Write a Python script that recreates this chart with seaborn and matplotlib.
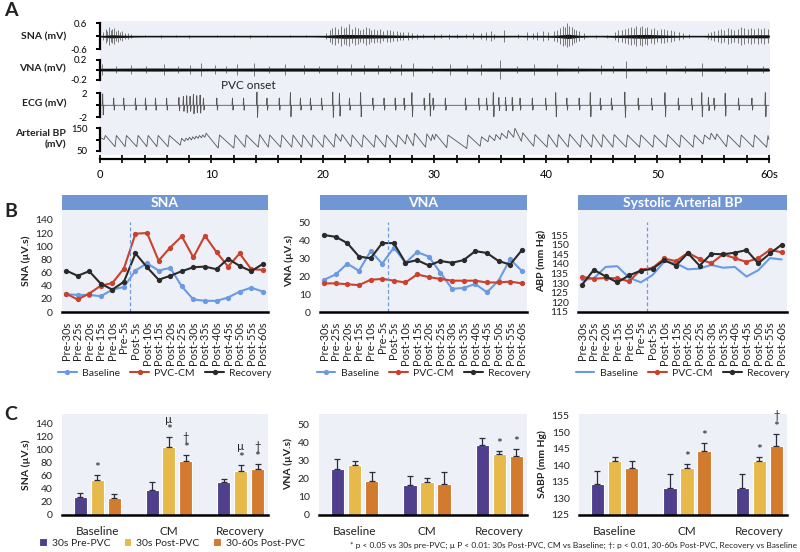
"""
plot.py

Three-panel physiology figure:
A. raw SNA / VNA / ECG / arterial BP traces around PVC onset
B. 5-s binned SNA, VNA and systolic BP for Baseline, PVC-CM and Recovery
C. 30-s averaged responses (mean + SE) before and after PVCs
"""

import numpy as np
import pandas as pd
import matplotlib.pyplot as plt
import seaborn as sns
from matplotlib.patches import Patch
from matplotlib.lines import Line2D

sns.set_theme(style="white", context="paper")
plt.rcParams["font.family"] = ["Lato", "DejaVu Sans"]

W, H = 800, 552
BG = "#EEF0F8"
TITLE_BLUE = "#7096D4"
INK = "#222222"
C_BASE = "#6A9BE2"
C_PVC = "#C8422E"
C_REC = "#2A2A2A"
C_PRE = "#4F3F8C"
C_POST = "#E7B94B"
C_LATE = "#D27B2F"

# ---------------------------------------------------------------- panel A data
# heart beats (s): BP upstroke times, systolic peaks, diastolic troughs
beat_t = [0.36, 1.35, 2.25, 3.3, 4.2, 5.1, 6.1, 7.2, 7.6, 7.9,
          8.2, 8.5, 8.8, 9.1, 9.4, 10.6, 12.0, 13.0, 14.2, 15.1,
          16.2, 17.2, 18.1, 19.0, 20.0, 21.0, 21.6, 22.5, 23.5, 24.6,
          25.6, 26.6, 27.4, 28.1, 29.2, 29.7, 30.0, 31.1, 32.9, 34.1,
          34.8, 35.4, 35.9, 36.5, 37.1, 37.8, 38.9, 40.1, 41.0, 42.0,
          43.1, 44.1, 45.0, 46.0, 47.2, 48.4, 49.6, 50.8, 52.0, 53.2,
          54.1, 54.7, 55.2, 56.2, 57.4, 58.6, 59.8]
bp_peak = [118, 118, 118, 118, 118, 118, 118, 105, 106, 110,
           112, 115, 118, 120, 128, 120, 120, 120, 122, 120,
           120, 120, 120, 120, 120, 125, 122, 120, 120, 120,
           120, 120, 122, 128, 125, 122, 124, 120, 120, 112,
           118, 122, 128, 140, 150, 130, 122, 122, 122, 124,
           122, 122, 122, 122, 120, 120, 120, 122, 120, 120,
           120, 128, 125, 120, 120, 120, 118]
bp_trough = [100, 68, 68, 68, 68, 68, 68, 75, 92, 97,
             98, 102, 105, 108, 110, 62, 62, 66, 66, 66,
             66, 66, 66, 66, 66, 66, 92, 68, 66, 66,
             66, 66, 80, 72, 66, 95, 100, 64, 60, 70,
             90, 95, 100, 105, 110, 92, 70, 66, 66, 66,
             66, 66, 66, 66, 66, 66, 66, 66, 66, 66,
             80, 100, 100, 68, 66, 66, 66]
ecg_up = [1.9, 1.2, 1.2, 1.2, 1.2, 1.2, 1.2, 1.3, 1.5, 1.6,
          1.5, 1.8, 1.6, 1.7, 1.2, 1.2, 1.2, 1.2, 2.2, 1.2,
          1.2, 2.1, 1.2, 1.2, 1.2, 2.2, 2.0, 1.2, 2.1, 1.2,
          1.2, 1.2, 1.2, 2.1, 1.2, 2.0, 1.2, 1.2, 1.2, 1.2,
          1.2, 2.1, 1.3, 1.3, 1.3, 1.2, 1.2, 1.2, 2.1, 1.2,
          1.2, 2.1, 1.2, 1.2, 2.2, 1.2, 1.2, 2.1, 1.2, 1.2,
          2.1, 1.3, 1.2, 2.0, 1.2, 1.2, 2.1]
ecg_dn = [-1.6, -0.8, -0.8, -0.8, -0.8, -0.8, -0.8, -0.9, -1.0, -1.2,
          -1.0, -1.4, -1.2, -1.3, -0.8, -0.8, -0.8, -0.8, -2.0, -0.8,
          -0.8, -1.9, -0.8, -0.8, -0.8, -2.0, -1.8, -0.8, -1.9, -0.8,
          -0.8, -0.8, -0.8, -1.9, -0.8, -1.8, -0.8, -0.8, -0.8, -0.8,
          -0.8, -1.9, -0.9, -0.9, -0.9, -0.8, -0.8, -0.8, -1.9, -0.8,
          -0.8, -1.9, -0.8, -0.8, -2.0, -0.8, -0.8, -1.9, -0.8, -0.8,
          -1.9, -0.9, -0.8, -1.8, -0.8, -0.8, -1.9]

# nerve activity: dense-band half width (1-s steps) and individual spikes
sna_env_t = list(range(61))
sna_env = [0.02, 0.07, 0.05, 0.03, 0.02, 0.02, 0.02, 0.02, 0.02, 0.02,
           0.02, 0.02, 0.02, 0.02, 0.02, 0.02, 0.02, 0.02, 0.02, 0.02,
           0.03, 0.07, 0.09, 0.08, 0.08, 0.07, 0.06, 0.05, 0.04, 0.03,
           0.03, 0.02, 0.03, 0.02, 0.03, 0.03, 0.03, 0.02, 0.02, 0.03,
           0.03, 0.05, 0.10, 0.04, 0.02, 0.02, 0.04, 0.06, 0.08, 0.09,
           0.07, 0.05, 0.03, 0.02, 0.02, 0.04, 0.05, 0.06, 0.06, 0.07,
           0.07]
sna_spk_t = [0.3, 0.5, 0.65, 0.8, 0.95, 1.1, 1.25, 1.4, 1.6, 1.8,
             2.0, 2.2, 2.5, 2.8, 4.0, 5.5, 6.8, 8.0, 10.5, 12.0,
             13.5, 15.0, 17.0, 18.5, 20.3, 20.6, 20.85, 21.1, 21.35, 21.6,
             21.85, 22.1, 22.35, 22.6, 22.85, 23.1, 23.35, 23.6, 23.85, 24.1,
             24.35, 24.6, 24.85, 25.1, 25.4, 25.7, 26.0, 26.3, 26.6, 26.9,
             27.2, 27.6, 28.0, 28.4, 29.0, 30.0, 30.6, 31.3, 32.0, 32.8,
             33.5, 34.2, 34.6, 35.1, 35.3, 36.2, 37.5, 38.3, 38.8, 39.2,
             39.7, 40.2, 40.7, 41.0, 41.3, 41.5, 41.7, 41.9, 42.1, 42.3,
             42.5, 42.7, 43.0, 43.4, 44.5, 45.5, 46.2, 46.5, 46.8, 47.1,
             47.4, 47.6, 47.9, 48.1, 48.4, 48.6, 48.9, 49.1, 49.4, 49.7,
             50.0, 50.3, 50.6, 50.9, 51.2, 51.5, 51.9, 52.3, 52.8, 54.5,
             54.8, 55.1, 55.4, 55.7, 56.0, 56.3, 56.6, 56.9, 57.2, 57.5,
             57.8, 58.1, 58.4, 58.7, 59.0, 59.3, 59.6, 59.9]
sna_spk_a = [0.20, 0.35, 0.25, 0.45, 0.30, 0.35, 0.40, 0.25, 0.30, 0.20,
             0.25, 0.15, 0.15, 0.10, 0.06, 0.08, 0.06, 0.07, 0.06, 0.05,
             0.08, 0.06, 0.06, 0.05, 0.15, 0.30, 0.40, 0.45, 0.35, 0.50,
             0.40, 0.45, 0.55, 0.35, 0.45, 0.40, 0.30, 0.35, 0.45, 0.40,
             0.30, 0.35, 0.30, 0.35, 0.25, 0.30, 0.30, 0.25, 0.25, 0.20,
             0.22, 0.18, 0.15, 0.12, 0.10, 0.12, 0.10, 0.12, 0.10, 0.10,
             0.15, 0.15, 0.20, 0.25, 0.12, 0.30, 0.10, 0.20, 0.15, 0.20,
             0.25, 0.20, 0.25, 0.30, 0.40, 0.50, 0.45, 0.60, 0.50, 0.45,
             0.35, 0.30, 0.25, 0.15, 0.08, 0.08, 0.20, 0.30, 0.30, 0.35,
             0.40, 0.45, 0.40, 0.50, 0.45, 0.50, 0.40, 0.45, 0.35, 0.40,
             0.30, 0.35, 0.35, 0.30, 0.30, 0.25, 0.20, 0.15, 0.10, 0.15,
             0.20, 0.25, 0.30, 0.35, 0.30, 0.40, 0.35, 0.30, 0.35, 0.45,
             0.40, 0.35, 0.40, 0.35, 0.40, 0.35, 0.40, 0.35]
vna_env_t = [0, 5, 10, 15, 20, 25, 30, 35, 40, 45, 50, 55, 60]
vna_env = [0.025, 0.03, 0.025, 0.03, 0.03, 0.03, 0.025, 0.03, 0.03,
           0.025, 0.025, 0.03, 0.03]
vna_spk_t = [0.15, 1.4, 2.8, 4.1, 5.7, 7.0, 8.1, 9.1, 10.3, 11.3,
             12.3, 13.8, 15.2, 16.6, 18.3, 19.6, 21.3, 22.5, 23.7, 24.9,
             26.0, 27.0, 28.1, 29.8, 31.4, 32.9, 34.2, 35.9, 37.4, 38.9,
             41.0, 42.9, 44.9, 46.0, 47.2, 49.0, 50.8, 52.5, 54.0, 56.1,
             58.0, 59.5]
vna_spk_a = [0.12, 0.07, 0.10, 0.07, 0.12, 0.07, 0.10, 0.14, 0.10, 0.07,
             0.12, 0.14, 0.07, 0.12, 0.10, 0.07, 0.10, 0.12, 0.10, 0.10,
             0.07, 0.12, 0.14, 0.07, 0.12, 0.10, 0.12, 0.20, 0.07, 0.12,
             0.12, 0.07, 0.10, 0.07, 0.18, 0.07, 0.10, 0.07, 0.14, 0.07,
             0.10, 0.07]

# ---------------------------------------------------------------- panel B data
bins = ["Pre-30s", "Pre-25s", "Pre-20s", "Pre-15s", "Pre-10s", "Pre-5s",
        "Post-5s", "Post-10s", "Post-15s", "Post-20s", "Post-25s", "Post-30s",
        "Post-35s", "Post-40s", "Post-45s", "Post-50s", "Post-55s", "Post-60s"]
sna_baseline = [27, 26, 26, 24, 34, 38, 63, 74, 63, 67, 39, 19, 17, 17, 22, 31, 37, 31]
sna_pvccm = [28, 19, 28, 40, 44, 66, 119, 120, 78, 98, 115, 83, 116, 91, 69, 89, 65, 64]
sna_recovery = [63, 55, 62, 43, 34, 46, 89, 68, 49, 55, 62, 68, 69, 65, 81, 70, 62, 73]
vna_baseline = [18, 21, 27, 23, 34, 27, 36, 27.5, 33.5, 31, 22, 13, 13.4, 15.7, 11, 17.5, 29.5, 23]
vna_pvccm = [16, 16, 15.5, 15, 18, 18.5, 17.5, 16.5, 21, 19.5, 18.5, 17.5, 17.5, 17.5, 16.5, 16.5, 17, 16]
vna_recovery = [43, 42, 38.5, 31, 30, 38.5, 38.5, 27.5, 29, 26, 28.5, 27.5, 29, 34, 33, 28.5, 26.5, 34.5]
abp_baseline = [131.5, 132.5, 138.4, 138.8, 132.8, 130.4, 134.2, 141.2, 140.3, 137.2,
                137.5, 139.5, 138, 138.4, 133.4, 136.7, 143, 142.3]
abp_pvccm = [133.2, 132.3, 132.7, 132.5, 130.9, 137, 137.9, 142.8, 141.4, 145.8,
             142.6, 140.3, 145, 143, 141, 143, 147.3, 146]
abp_recovery = [129.2, 136.9, 133.5, 130.4, 134, 136.5, 137.4, 142, 139.1, 145.6,
                139.1, 145.2, 145, 145.8, 147.2, 140.3, 145.4, 150]

# ---------------------------------------------------------------- panel C data
groups = ["Baseline", "CM", "Recovery"]
phases = ["30s Pre-PVC", "30s Post-PVC", "30-60s Post-PVC"]
c_sna_pre, c_sna_pre_se = [27.8, 37.4, 51], [6.5, 12.6, 4]
c_sna_post, c_sna_post_se = [54, 103, 66.7], [7, 15.7, 10]
c_sna_late, c_sna_late_se = [25.8, 82.8, 70.2], [5.5, 8.6, 7]
c_vna_pre, c_vna_pre_se = [25.2, 16.5, 38.2], [5.3, 5, 4.1]
c_vna_post, c_vna_post_se = [27.4, 18.4, 33.3], [2, 1.8, 2]
c_vna_late, c_vna_late_se = [18.6, 16.9, 32.5], [4.9, 6.8, 3.7]
c_sabp_pre, c_sabp_pre_se = [134.3, 133.3, 133.3], [4, 4.2, 4]
c_sabp_post, c_sabp_post_se = [141.3, 139.3, 141.5], [1.2, 1.1, 1.1]
c_sabp_late, c_sabp_late_se = [139.3, 144.5, 145.8], [2.2, 2.3, 3.8]
# significance marks: (group, phase) -> symbols from bottom to top
sna_marks = {(0, 1): ["*"], (1, 1): ["*", "\u00b5"], (1, 2): ["*", "\u2020"],
             (2, 1): ["*", "\u00b5"], (2, 2): ["*", "\u2020"]}
vna_marks = {(2, 1): ["*"], (2, 2): ["*"]}
sabp_marks = {(1, 1): ["*"], (1, 2): ["*"], (2, 1): ["*"], (2, 2): ["*", "\u2020"]}

FOOTNOTE = ("* p < 0.05 vs 30s pre-PVC; \u00b5 P < 0.01: 30s Post-PVC, CM vs Baseline; "
            "\u2020: p < 0.01, 30-60s Post-PVC, Recovery vs Baseline")


def px_axes(fig, x0, y0, x1, y1):
    """Axes placed with pixel edges (top-left origin)."""
    return fig.add_axes([x0 / W, 1 - y1 / H, (x1 - x0) / W, (y1 - y0) / H])


def draw_traces(fig):
    rows = [
        ("SNA (mV)", 21, 53, (-0.77, 0.71), [-0.6, 0, 0.6], ["-0.6", "", "0.6"]),
        ("VNA (mV)", 53, 85, (-0.31, 0.33), [-0.2, 0, 0.2], ["-0.2", "", "0.2"]),
        ("ECG (mV)", 85, 122, (-2.78, 3.38), [-2, 0, 2], ["-2", "", "2"]),
        ("Arterial BP\n(mV)", 122, 155, (31, 178), [50, 100, 150], ["50", "", "150"]),
    ]
    axes = []
    for label, y0, y1, ylim, ticks, tlabels in rows:
        ax = px_axes(fig, 100, y0, 770, y1)
        ax.set_facecolor(BG)
        ax.set_xlim(0, 60.1)
        ax.set_ylim(*ylim)
        for s in ["top", "right", "bottom"]:
            ax.spines[s].set_visible(False)
        ax.spines["left"].set_bounds(ticks[0], ticks[-1])
        ax.spines["left"].set_color("black")
        ax.spines["left"].set_linewidth(1.6)
        ax.set_yticks(ticks)
        ax.set_yticklabels(tlabels)
        ax.tick_params(axis="y", left=True, length=3, width=1.4, pad=6,
                       labelsize=6.8, colors="black")
        ax.set_xticks([])
        cy = (y0 + y1) / 2 if "\n" not in label else 139
        fig.text(66 / W, 1 - cy / H, label, ha="right", va="center",
                 fontsize=7.5, fontweight="bold", color=INK, linespacing=1.3)
        axes.append(ax)
    ax_sna, ax_vna, ax_ecg, ax_bp = axes

    # SNA
    env = np.array(sna_env)
    a = np.array(sna_spk_a)
    ax_sna.vlines(sna_spk_t, -0.85 * a, a, color="#4a4a4a", lw=0.5)
    ax_sna.fill_between(sna_env_t, -env, env, color="#111111", lw=0)
    ax_sna.axhline(0, color="#111111", lw=1.0)

    # VNA
    env = np.array(vna_env)
    a = np.array(vna_spk_a)
    ax_vna.vlines(vna_spk_t, -0.9 * a, a, color="#4a4a4a", lw=0.5)
    ax_vna.fill_between(vna_env_t, -env, env, color="#111111", lw=0)
    ax_vna.axhline(0, color="#111111", lw=1.0)

    # ECG
    ex, ey = [0.0], [0.0]
    for t, up, dn in zip(beat_t, ecg_up, ecg_dn):
        tt = t - 0.12
        ex += [tt - 0.04, tt, tt + 0.05, tt + 0.10]
        ey += [0.0, up, dn, 0.0]
    ex.append(60.0)
    ey.append(0.0)
    ax_ecg.plot(ex, ey, color="#555555", lw=0.6)

    # arterial BP
    bx, by = [0.0], [110.0]
    for t, lo, hi in zip(beat_t, bp_trough, bp_peak):
        bx += [t, t + 0.12]
        by += [lo, hi]
    bx.append(60.0)
    by.append(100.0)
    ax_bp.plot(bx, by, color="#555555", lw=0.6)

    ax_ecg.text(13.3, 3.35, "PVC onset", ha="center", va="center",
                fontsize=8.5, color=INK)

    # time axis
    ax_bp.spines["bottom"].set_visible(True)
    ax_bp.spines["bottom"].set_position(("outward", 3))
    ax_bp.spines["bottom"].set_color("black")
    ax_bp.spines["bottom"].set_linewidth(1.6)
    ax_bp.spines["bottom"].set_bounds(0, 60)
    ax_bp.set_xticks(np.arange(0, 61, 2), minor=True)
    ax_bp.set_xticks([0, 10, 20, 30, 40, 50, 60])
    ax_bp.set_xticklabels(["0", "10", "20", "30", "40", "50", "60s"])
    ax_bp.tick_params(axis="x", which="both", bottom=True, direction="inout",
                      length=6, width=1.2, labelsize=8, pad=4, colors="black")


def title_bar(fig, x0, x1, text):
    tb = px_axes(fig, x0, 195, x1, 210)
    tb.set_facecolor(TITLE_BLUE)
    for s in tb.spines.values():
        s.set_visible(False)
    tb.set_xticks([])
    tb.set_yticks([])
    tb.text(0.5, 0.45, text, ha="center", va="center", color="white",
            fontsize=10, fontweight="bold", transform=tb.transAxes)


def style_panel(ax, ylabel, yticks):
    ax.set_facecolor(BG)
    for s in ["top", "right", "left"]:
        ax.spines[s].set_visible(False)
    ax.spines["bottom"].set_color("black")
    ax.spines["bottom"].set_linewidth(1.8)
    ax.set_yticks(yticks)
    ax.tick_params(axis="y", left=False, labelsize=7.5, pad=2, colors=INK)
    ax.set_ylabel(ylabel, fontsize=7.5, fontweight="bold", color=INK, labelpad=3)


def draw_timecourse(fig, x0, x1, title, ylabel, series, ylim, yticks, base_marker=True):
    title_bar(fig, x0, x1, title)
    ax = px_axes(fig, x0, 210, x1, 312)
    pos = np.arange(len(bins))
    for name, vals, color in series:
        marker = "o" if (name != "Baseline" or base_marker) else None
        sns.lineplot(x=pos, y=vals, color=color, marker=marker, markersize=3.8,
                     markeredgewidth=0, linewidth=1.5, ax=ax, label=name)
    ax.axvline(5.5, ymax=0.88, color=C_BASE, lw=0.9, ls=(0, (3, 2)))
    ax.set_xlim(-0.35, 17.45)
    ax.set_ylim(*ylim)
    style_panel(ax, ylabel, yticks)
    ax.set_xticks(pos)
    ax.set_xticklabels(bins, rotation=90)
    ax.tick_params(axis="x", bottom=False, labelsize=8, pad=2, colors=INK)
    ax.set_xlabel("")
    handles = []
    for name, vals, color in series:
        marker = "o" if (name != "Baseline" or base_marker) else None
        handles.append(Line2D([], [], color=color, marker=marker, markersize=3.8,
                              markeredgewidth=0, lw=1.5, label=name))
    ax.legend(handles=handles, loc="center", bbox_to_anchor=(0.5, -0.6), ncol=3,
              frameon=False, fontsize=7.5, handlelength=1.8, handletextpad=0.5,
              columnspacing=1.0)
    return ax


def draw_bars(fig, x0, x1, ylabel, means, ses, marks, ylim, yticks):
    ax = px_axes(fig, x0, 414, x1, 515)
    df = pd.DataFrame({
        "group": groups * 3,
        "phase": np.repeat(phases, 3),
        "value": np.concatenate(means),
    })
    sns.barplot(data=df, x="group", y="value", hue="phase", hue_order=phases,
                palette=[C_PRE, C_POST, C_LATE], width=0.705, gap=0.23,
                saturation=1, errorbar=None, legend=False, ax=ax)
    step = 0.705 / 3
    for p, (m, se) in enumerate(zip(means, ses)):
        xs = np.arange(3) + (p - 1) * step
        ax.errorbar(xs, m, yerr=[[0] * 3, se], fmt="none", ecolor="#2b2b3b",
                    elinewidth=0.9, capsize=2.5, capthick=0.9, zorder=3)
    for (g, p), syms in marks.items():
        top = means[p][g] + ses[p][g]
        x = g + (p - 1) * step
        for k, s in enumerate(syms):
            size = 10 if s == "*" else 8
            ax.annotate(s, (x, top), xytext=(0, 5 + 8 * k), textcoords="offset points",
                        ha="center", va="center", fontsize=size, color=INK)
    ax.set_xlim(-0.49, 2.38)
    ax.set_ylim(*ylim)
    style_panel(ax, ylabel, yticks)
    ax.tick_params(axis="x", bottom=False, labelsize=8.5, pad=3, colors=INK)
    ax.set_xlabel("")
    return ax


def main():
    fig = plt.figure(figsize=(W / 100, H / 100), dpi=100)

    draw_traces(fig)

    draw_timecourse(fig, 62, 268, "SNA", "SNA (\u00b5V.s)",
                    [("Baseline", sna_baseline, C_BASE), ("PVC-CM", sna_pvccm, C_PVC),
                     ("Recovery", sna_recovery, C_REC)],
                    (0, 155), range(0, 141, 20))
    draw_timecourse(fig, 320, 527, "VNA", "VNA (\u00b5V.s)",
                    [("Baseline", vna_baseline, C_BASE), ("PVC-CM", vna_pvccm, C_PVC),
                     ("Recovery", vna_recovery, C_REC)],
                    (0, 57), range(0, 51, 10))
    draw_timecourse(fig, 578, 787, "Systolic Arterial BP", "ABP (mm Hg)",
                    [("Baseline", abp_baseline, C_BASE), ("PVC-CM", abp_pvccm, C_PVC),
                     ("Recovery", abp_recovery, C_REC)],
                    (115, 168), range(115, 156, 5), base_marker=False)

    draw_bars(fig, 62, 268, "SNA (\u00b5V.s)",
              [c_sna_pre, c_sna_post, c_sna_late],
              [c_sna_pre_se, c_sna_post_se, c_sna_late_se],
              sna_marks, (0, 154), range(0, 141, 20))
    draw_bars(fig, 319, 527, "VNA (\u00b5V.s)",
              [c_vna_pre, c_vna_post, c_vna_late],
              [c_vna_pre_se, c_vna_post_se, c_vna_late_se],
              vna_marks, (0, 55.5), range(0, 51, 10))
    draw_bars(fig, 579, 787, "SABP (mm Hg)",
              [c_sabp_pre, c_sabp_post, c_sabp_late],
              [c_sabp_pre_se, c_sabp_post_se, c_sabp_late_se],
              sabp_marks, (125, 155.6), range(125, 156, 5))

    handles = [Patch(facecolor=c, label=l) for c, l in zip([C_PRE, C_POST, C_LATE], phases)]
    fig.legend(handles=handles, loc="center left", bbox_to_anchor=(30 / W, 1 - 543 / H),
               ncol=3, frameon=False, fontsize=7.5, handlelength=0.7, handleheight=0.7,
               handletextpad=0.5, columnspacing=1.3)
    fig.text(797 / W, 1 - 545 / H, FOOTNOTE, ha="right", va="center",
             fontsize=6.0, color=INK)

    for letter, y in [("A", 11), ("B", 212), ("C", 414)]:
        fig.text(4 / W, 1 - y / H, letter, ha="left", va="center",
                 fontsize=14, fontweight="bold", color=INK)

    fig.savefig("out.png", dpi=100)


if __name__ == "__main__":
    main()
